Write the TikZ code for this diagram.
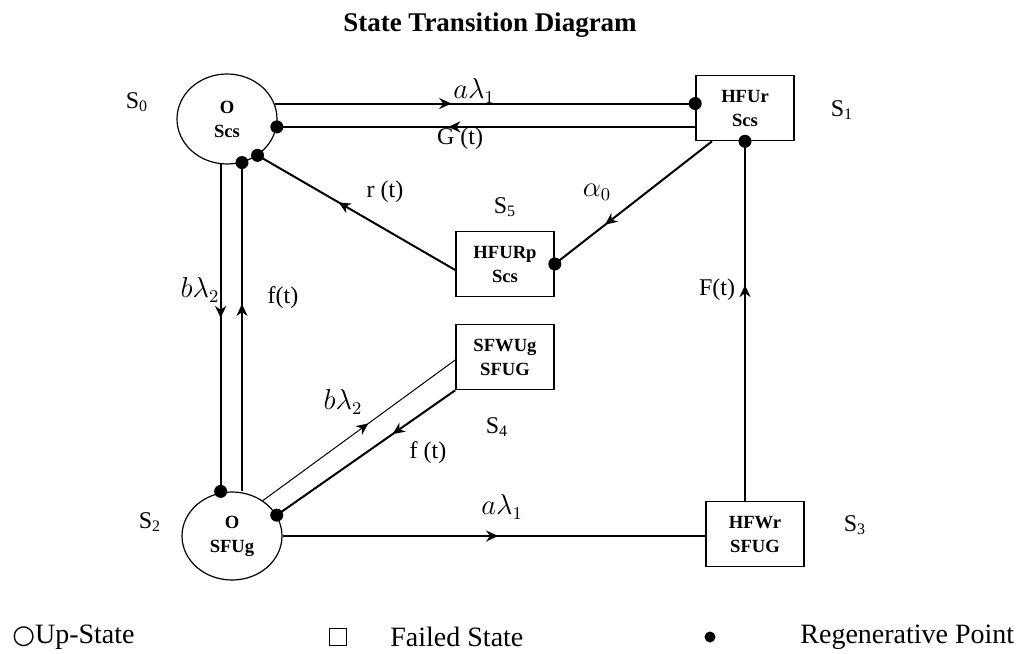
\documentclass[tikz,border=0pt]{standalone}
\usepackage{fontspec}
\setmainfont{Liberation Serif}
\newfontfamily\symfont{DejaVu Sans}
\usetikzlibrary{arrows.meta,decorations.markings,calc,shapes.geometric}
\begin{document}
\begin{tikzpicture}[x=0.5pt,y=-0.5pt,
  upstate/.style={draw,ellipse,minimum width=50pt,minimum height=45pt,inner sep=0pt,line width=0.6pt,
    font=\fontsize{9.3}{12}\selectfont\bfseries,align=center},
  failstate/.style={draw,rectangle,minimum width=49pt,minimum height=32.5pt,inner sep=0pt,line width=0.8pt,
    font=\fontsize{9.3}{12}\selectfont\bfseries,align=center},
  lbl/.style={font=\fontsize{12}{14}\selectfont,inner sep=0pt},
  mlbl/.style={font=\fontsize{13.5}{15}\selectfont,inner sep=0pt},
  conn/.style={line width=1pt},
  thinconn/.style={line width=0.5pt},
  midarrow/.style={postaction={decorate},decoration={markings,
    mark=at position #1 with {\arrow{Stealth[length=6pt,width=5.5pt]}}}},
  regdot/.style={circle,fill,inner sep=0pt,minimum size=6.5pt},
  legend/.style={font=\fontsize{14}{16}\selectfont,inner sep=0pt}
]
\useasboundingbox (0,0) rectangle (1021,653);

\node[font=\fontsize{13.5}{16}\selectfont\bfseries] (title) at (490,25) {State Transition Diagram};

% states
\node[upstate] (s0) at (227,119) {O\\Scs};
\node[failstate] (s1) at (745,108) {HFUr\\Scs};
\node[upstate,minimum height=44pt] (s2) at (232,536) {O\\SFUg};
\node[failstate] (s3) at (755,534) {HFWr\\SFUG};
\node[failstate] (s4) at (505,357) {SFWUg\\SFUG};
\node[failstate] (s5) at (505,264) {HFURp\\Scs};

% state labels
\node[lbl] (l0) at (137,102) {S\textsubscript{0}};
\node[lbl] (l1) at (842,110) {S\textsubscript{1}};
\node[lbl] (l2) at (150,522) {S\textsubscript{2}};
\node[lbl] (l3) at (855,525) {S\textsubscript{3}};
\node[lbl] (l4) at (497,427) {S\textsubscript{4}};
\node[lbl] (l5) at (505,207) {S\textsubscript{5}};

% S0 -> S1
\draw[conn,midarrow=0.42] (s0.18) -- node[pos=1,regdot]{} (s0.18 -| s1.west);
% S1 -> S0
\draw[conn,midarrow=0.59] (s1.west |- s0.-9) -- node[pos=1,regdot]{} (s0.-9);
% S0 -> S2
\draw[conn,midarrow=0.47] (s0.262) -- node[pos=1,regdot]{} (s0.262 |- s2.north);
% S2 -> S0
\draw[conn,midarrow=0.57] (s0.-71 |- s2.north) -- node[pos=1,regdot]{} (s0.-71);
% S5 -> S0
\draw[conn,midarrow=0.59] ($(s5.west)+(0,6)$) -- node[pos=1,regdot]{} (s0.-50);
% S1 -> S5
\draw[conn,midarrow=0.68] ($(s1.south)+(-33,0)$) -- node[pos=1,regdot]{} (s5.east);
% S2 -> S4
\draw[thinconn,midarrow=0.55] (s2.49) -- ($(s4.west)+(0,3)$);
% S4 -> S2
\draw[conn,midarrow=0.35] (s4.south west) -- node[pos=1,regdot]{} (s2.25);
% S2 -> S3
\draw[conn,midarrow=0.51] (s2.east) -- (s2.east -| s3.west);
% S3 -> S1
\draw[conn,midarrow=0.6] (s1.south |- s3.north) -- node[pos=1,regdot]{} (s1.south);

% transition labels
\node[mlbl] (t1) at (474,91) {$a\lambda_1$};
\node[lbl] (t2) at (460,139) {G (t)};
\node[mlbl] (t3) at (597,192) {$\alpha_0$};
\node[lbl] (t4) at (717,290) {F(t)};
\node[lbl] (t5) at (385,192) {r (t)};
\node[mlbl] (t6) at (200,290) {$b\lambda_2$};
\node[lbl] (t7) at (283,298) {f(t)};
\node[mlbl] (t8) at (343,402) {$b\lambda_2$};
\node[lbl] (t9) at (428,453) {f (t)};
\node[mlbl] (t10) at (502,507) {$a\lambda_1$};

% legend
\node[legend,anchor=west] (lg1) at (12,637) {{\symfont\fontsize{13}{16}\selectfont ○}Up-State};
\node[draw,rectangle,minimum width=8.5pt,minimum height=8.5pt,inner sep=0pt,line width=0.5pt] (lgbox) at (338,637) {};
\node[legend,anchor=west] (lg2) at (390,637) {Failed State};
\node[regdot,minimum size=5.5pt] (lgdot) at (710,637) {};
\node[legend,anchor=west] (lg3) at (800,637) {Regenerative Point};
\end{tikzpicture}
\end{document}
